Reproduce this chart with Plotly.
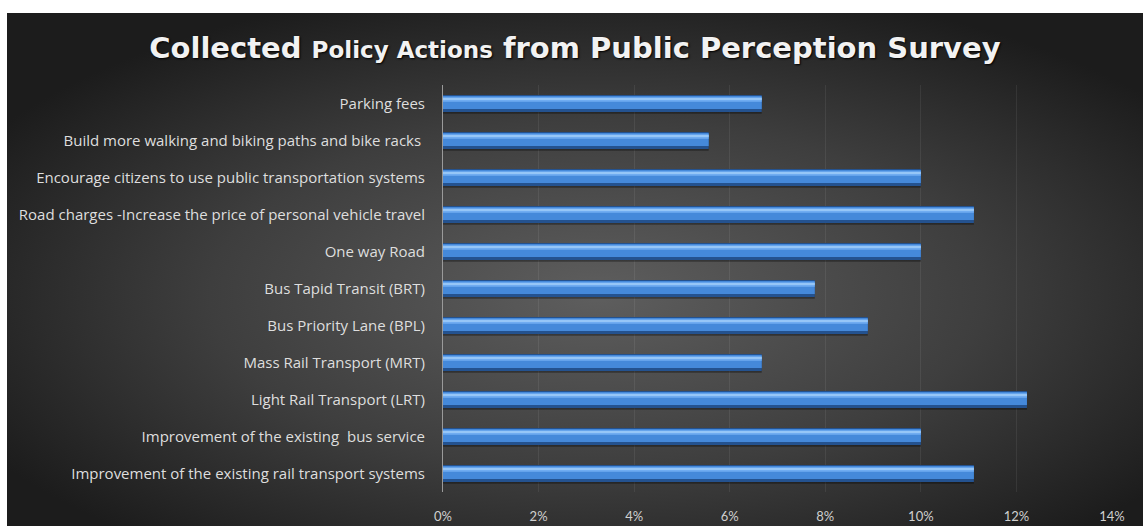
import plotly.graph_objects as go
import urllib.parse

# Policy actions, listed bottom to top as they appear on the axis
actions = [
    "Improvement of the existing rail transport systems",
    "Improvement of the existing  bus service",
    "Light Rail Transport (LRT)",
    "Mass Rail Transport (MRT)",
    "Bus Priority Lane (BPL)",
    "Bus Tapid Transit (BRT)",
    "One way Road",
    "Road charges -Increase the price of personal vehicle travel",
    "Encourage citizens to use public transportation systems",
    "Build more walking and biking paths and bike racks ",
    "Parking fees",
]
# Share of responses (%)
share = [11.11, 10.0, 12.22, 6.67, 8.89, 7.78, 10.0, 11.11, 10.0, 5.56, 6.67]

x_ticks = [0, 2, 4, 6, 8, 10, 12, 14]
x_tick_text = ["0%", "2%", "4%", "6%", "8%", "10%", "12%", "14%"]

W, H = 1143, 526
ML, MR, MT, MB = 443, 31, 85, 34
pw, ph = W - ML - MR, H - MT - MB

# dark radial backdrop
svg = (
    "<svg xmlns='http://www.w3.org/2000/svg' width='1136' height='513' preserveAspectRatio='none'>"
    "<defs><radialGradient id='g' cx='52%' cy='55%' r='62%'>"
    "<stop offset='0' stop-color='#5e5e5e'/>"
    "<stop offset='0.55' stop-color='#3e3e3e'/>"
    "<stop offset='1' stop-color='#1c1c1c'/>"
    "</radialGradient></defs>"
    "<rect width='1136' height='513' fill='url(#g)'/></svg>"
)
bg_src = "data:image/svg+xml;charset=utf-8," + urllib.parse.quote(svg)

fig = go.Figure()

# bar body drawn in layers to give a rounded, lit look
layers = [
    dict(offset=-0.28, width=0.10, color="rgba(0,0,0,0.35)"),
    dict(offset=-0.23, width=0.46, color="#24528f"),
    dict(offset=-0.15, width=0.35, color="#4589da"),
    dict(offset=0.05, width=0.12, color="#70acf1"),
    dict(offset=0.10, width=0.05, color="#96c6f7"),
]
for i, lay in enumerate(layers):
    fig.add_trace(go.Bar(
        x=share, y=actions, orientation="h",
        offset=lay["offset"], width=lay["width"],
        marker=dict(color=lay["color"], line=dict(width=0)),
        hoverinfo=None if i == 1 else "skip",
        showlegend=False,
    ))

title_text = ("Collected <span style='font-size:23px'>Policy Actions</span> "
              "from Public Perception Survey")

fig.update_layout(
    width=W, height=H,
    margin=dict(l=ML, r=MR, t=MT, b=MB, autoexpand=False),
    paper_bgcolor="white",
    plot_bgcolor="rgba(0,0,0,0)",
    barmode="overlay",
    title=dict(
        text=title_text, x=0.503, xanchor="center", y=1 - 48 / H, yanchor="middle",
        font=dict(family="DejaVu Sans", size=29, color="#f2f2f2", weight="bold",
                  shadow="1px 1px 2px #000"),
    ),
    xaxis=dict(
        range=[0, 14], tickvals=x_ticks, ticktext=x_tick_text,
        showgrid=True, gridcolor="rgba(255,255,255,0.07)", gridwidth=1,
        zeroline=False, showline=False, ticks="",
        ticklabelstandoff=15, automargin=False,
        tickfont=dict(family="Lato", size=13, color="#d0d0d0"),
        fixedrange=True,
    ),
    yaxis=dict(
        showline=True, linecolor="#9a9a9a", linewidth=1,
        showgrid=False, ticks="", ticklabelstandoff=14, automargin=False,
        tickfont=dict(family="Open Sans", size=15, color="#dedede"),
        fixedrange=True,
    ),
    images=[dict(
        source=bg_src, xref="paper", yref="paper",
        x=(7 - ML) / pw, y=(H - MB - 13) / ph,
        sizex=(W - 7) / pw, sizey=(H - 13) / ph,
        xanchor="left", yanchor="top", sizing="stretch", layer="below",
    )],
)

fig.write_html("out.html")
